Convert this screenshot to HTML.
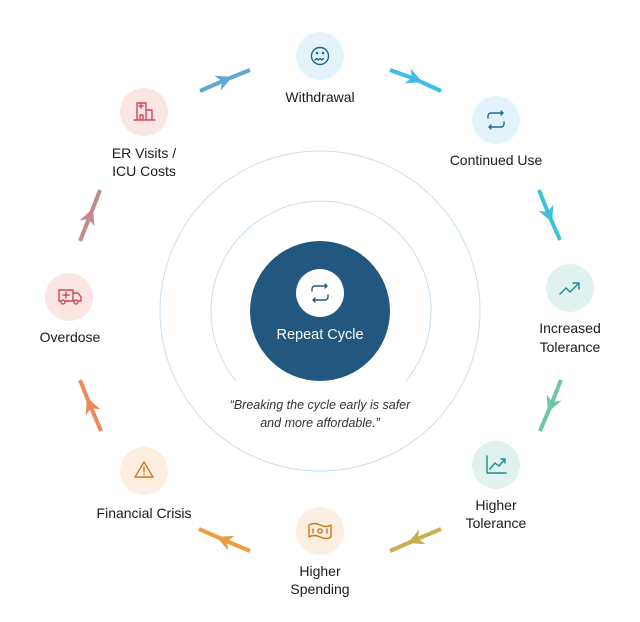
<!DOCTYPE html>
<html><head><meta charset="utf-8"><style>
html,body{margin:0;padding:0;background:#fff;}
svg{display:block;}
text{font-family:"Liberation Sans",sans-serif;}
</style></head><body>
<svg width="640" height="622" viewBox="0 0 640 622" xmlns="http://www.w3.org/2000/svg">
<defs>
<marker id="m1" viewBox="0 0 10 10" refX="5" refY="5" markerWidth="16" markerHeight="16" markerUnits="userSpaceOnUse" orient="auto"><path d="M0,0 L10,5 L0,10 L3,5 Z" fill="#62a6d3"/></marker>
<marker id="m2" viewBox="0 0 10 10" refX="5" refY="5" markerWidth="16" markerHeight="16" markerUnits="userSpaceOnUse" orient="auto"><path d="M0,0 L10,5 L0,10 L3,5 Z" fill="#3cbce6"/></marker>
<marker id="m3" viewBox="0 0 10 10" refX="5" refY="5" markerWidth="16" markerHeight="16" markerUnits="userSpaceOnUse" orient="auto"><path d="M0,0 L10,5 L0,10 L3,5 Z" fill="#3bc3d5"/></marker>
<marker id="m4" viewBox="0 0 10 10" refX="5" refY="5" markerWidth="16" markerHeight="16" markerUnits="userSpaceOnUse" orient="auto"><path d="M0,0 L10,5 L0,10 L3,5 Z" fill="#6fc5a7"/></marker>
<marker id="m5" viewBox="0 0 10 10" refX="5" refY="5" markerWidth="16" markerHeight="16" markerUnits="userSpaceOnUse" orient="auto"><path d="M0,0 L10,5 L0,10 L3,5 Z" fill="#c9ae50"/></marker>
<marker id="m6" viewBox="0 0 10 10" refX="5" refY="5" markerWidth="16" markerHeight="16" markerUnits="userSpaceOnUse" orient="auto"><path d="M0,0 L10,5 L0,10 L3,5 Z" fill="#ee9a3f"/></marker>
<marker id="m7" viewBox="0 0 10 10" refX="5" refY="5" markerWidth="16" markerHeight="16" markerUnits="userSpaceOnUse" orient="auto"><path d="M0,0 L10,5 L0,10 L3,5 Z" fill="#f0895a"/></marker>
<marker id="m8" viewBox="0 0 10 10" refX="5" refY="5" markerWidth="16" markerHeight="16" markerUnits="userSpaceOnUse" orient="auto"><path d="M0,0 L10,5 L0,10 L3,5 Z" fill="#c48a8b"/></marker>
</defs>
<circle cx="320" cy="311" r="160" fill="none" stroke="#c9dff0" stroke-width="1"/>
<path d="M236,381 A110,110 0 1 1 406,381" fill="none" stroke="#c9dff0" stroke-width="1"/>
<circle cx="320" cy="311" r="70" fill="#22587f"/>
<circle cx="320" cy="293" r="24" fill="#fff"/>
<g fill="none" stroke="#22587f" stroke-width="1.4" stroke-linecap="round" stroke-linejoin="round">
<path d="M312,291 v-2 a3,3 0 0 1 3,-3 h12 M325,284 l2,2 l-2,2"/>
<path d="M328,295 v2 a3,3 0 0 1 -3,3 h-12 M315,302 l-2,-2 l2,-2"/>
</g>
<text x="320" y="339" font-size="14.5" fill="#fff" text-anchor="middle">Repeat Cycle</text>
<text x="320" y="409" font-size="12.5" font-style="italic" fill="#333" text-anchor="middle">“Breaking the cycle early is safer</text>
<text x="320" y="427" font-size="12.5" font-style="italic" fill="#333" text-anchor="middle">and more affordable.”</text>

<g stroke-width="4" fill="none" stroke-linecap="butt">
<path d="M200,91 L225,80 L250,70" stroke="#62a6d3" marker-mid="url(#m1)"/>
<path d="M390,70 L415,79 L441,91" stroke="#3cbce6" marker-mid="url(#m2)"/>
<path d="M539,190 L549,215 L560,240" stroke="#3bc3d5" marker-mid="url(#m3)"/>
<path d="M561,380 L551,405 L540,431" stroke="#6fc5a7" marker-mid="url(#m4)"/>
<path d="M441,529 L415,540 L390,551" stroke="#c9ae50" marker-mid="url(#m5)"/>
<path d="M250,551 L224,540 L199,529" stroke="#ee9a3f" marker-mid="url(#m6)"/>
<path d="M101,431 L90,405 L80,380" stroke="#f0895a" marker-mid="url(#m7)"/>
<path d="M80,241 L90,216 L100,190" stroke="#c48a8b" marker-mid="url(#m8)"/>
</g>

<circle cx="320" cy="56" r="24" fill="#e4f2fb"/>
<circle cx="496" cy="120" r="24" fill="#e3f3fb"/>
<circle cx="570" cy="288" r="24" fill="#dff2ef"/>
<circle cx="496" cy="465" r="24" fill="#dff2ef"/>
<circle cx="320" cy="531" r="24" fill="#fcefe1"/>
<circle cx="144" cy="471" r="24" fill="#fcefe1"/>
<circle cx="69" cy="297" r="24" fill="#fbe6e3"/>
<circle cx="144" cy="112" r="24" fill="#fbe6e3"/>

<g fill="none" stroke-width="1.4" stroke-linecap="round" stroke-linejoin="round">
<g stroke="#1d6a8a"><circle cx="320" cy="56" r="8.5"/><circle cx="317" cy="53" r="0.6"/><circle cx="323" cy="53" r="0.6"/><path d="M315,60 l1.7,-1.5 l1.7,1.5 l1.7,-1.5 l1.7,1.5 l1.7,-1.5"/></g>
<g stroke="#1d6a8a"><path d="M488,118 v-2 a3,3 0 0 1 3,-3 h12 M501,111 l2,2 l-2,2"/><path d="M504,122 v2 a3,3 0 0 1 -3,3 h-12 M491,129 l-2,-2 l2,-2"/></g>
<g stroke="#1a8a8e"><path d="M560,294 l6,-6 l4,4 l9,-9 M573,283 h6 v6"/></g>
<g stroke="#1a8a8e"><path d="M487,456 v17 h19 M490,469 l5,-6 l4,3 l6,-7 M501,459 h4 v4"/></g>
<g stroke="#c97a1a"><path d="M309,525 q5,-3 11,0 q6,3 11,0 v12 q-5,3 -11,0 q-6,-3 -11,0 z"/><circle cx="320" cy="531" r="2"/><path d="M313,529 v4 M327,529 v4"/></g>
<g stroke="#c97a1a"><path d="M144,462 l9,15 h-18 z M144,467 v5 M144,474.5 v0.3"/></g>
<g stroke="#d0485a"><path d="M59,290 h14 v11 h-14 z M73,293 h5 l3,4 v4 h-8 M66,292 v6 M63,295 h6"/><circle cx="63" cy="302" r="2" fill="#fbe6e3"/><circle cx="76" cy="302" r="2" fill="#fbe6e3"/></g>
<g stroke="#d0485a"><path d="M137,120 v-17 h9 v17 M146,110 h6 v10 M134,120 h21 M141,104 v4 M139,106 h4 M140,120 v-5 h3 v5"/></g>
</g>

<g font-size="14" fill="#1a1a1a" text-anchor="middle">
<text x="320" y="102">Withdrawal</text>
<text x="496" y="165">Continued Use</text>
<text x="570" y="333">Increased</text>
<text x="570" y="352">Tolerance</text>
<text x="496" y="510">Higher</text>
<text x="496" y="528">Tolerance</text>
<text x="320" y="576">Higher</text>
<text x="320" y="594">Spending</text>
<text x="144" y="518">Financial Crisis</text>
<text x="70" y="342">Overdose</text>
<text x="144" y="158">ER Visits /</text>
<text x="144" y="176">ICU Costs</text>
</g>
</svg>
</body></html>
